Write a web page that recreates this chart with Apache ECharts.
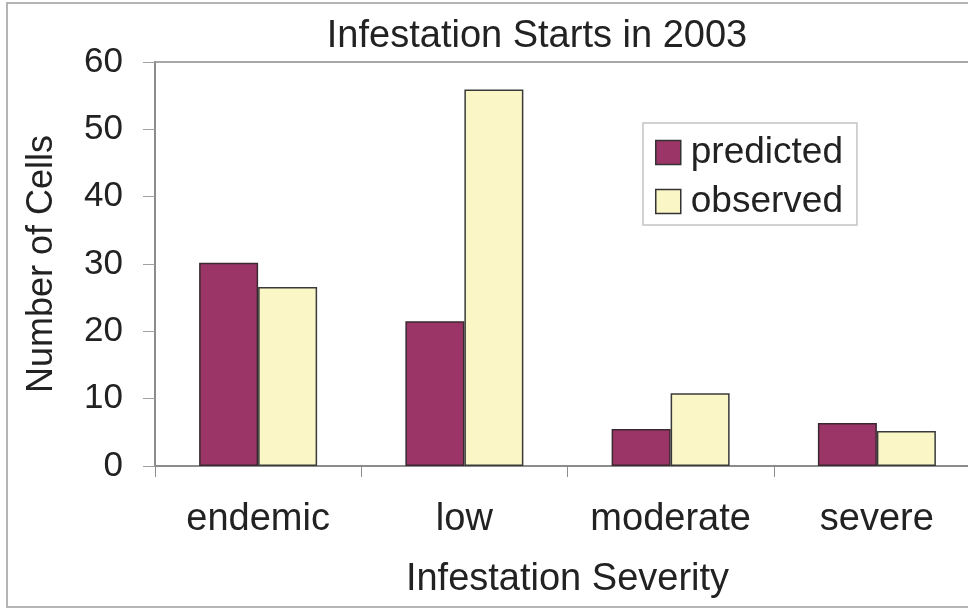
<!DOCTYPE html>
<html>
<head>
<meta charset="utf-8">
<script src="https://cdn.jsdelivr.net/npm/echarts@6/dist/echarts.min.js"></script>
<style>
  html, body { margin: 0; padding: 0; background: #ffffff; }
  #chart { width: 968px; height: 611px; }
</style>
</head>
<body>
<div id="chart"></div>
<script>
// Severity classes along the category axis
const categories = ['endemic', 'low', 'moderate', 'severe'];
// Number of cells per severity class
const predicted = [30.2, 21.5, 5.5, 6.4];
const observed = [26.6, 55.9, 10.8, 5.2];
// Value axis range and step
const yMin = 0;
const yMax = 60;
const yStep = 10;

const FONT = '"Liberation Sans", Arial, sans-serif';
const TEXT = '#222222';

const chart = echarts.init(document.getElementById('chart'), null, { renderer: 'canvas' });

chart.setOption({
  backgroundColor: '#ffffff',
  animation: false,
  textStyle: { fontFamily: FONT },
  title: {
    text: 'Infestation Starts in 2003',
    left: 532,
    top: 13,
    textAlign: 'center',
    textStyle: { fontFamily: FONT, fontSize: 38, fontWeight: 'normal', color: TEXT }
  },
  graphic: [{
    type: 'rect',
    shape: { x: 7, y: 3, width: 1000, height: 604 },
    style: { fill: 'none', stroke: '#b4b4b4', lineWidth: 2 },
    silent: true,
    z: -1
  }],
  legend: {
    orient: 'vertical',
    left: 643,
    top: 123,
    padding: [11, 14, 5, 12],
    itemGap: 12,
    itemWidth: 25,
    itemHeight: 24,
    itemStyle: { borderColor: '#333333', borderWidth: 1.5 },
    borderColor: '#c4c4c4',
    borderWidth: 1.5,
    icon: 'rect',
    textStyle: { fontFamily: FONT, fontSize: 37, color: TEXT, lineHeight: 36, padding: [0, 0, 0, 5] },
    data: ['predicted', 'observed']
  },
  grid: {
    left: 155,
    top: 62,
    right: -12,
    bottom: 145,
    outerBoundsMode: 'none',
    show: true,
    borderColor: '#a8a8a8',
    borderWidth: 2,
    containLabel: false
  },
  xAxis: {
    type: 'category',
    data: categories,
    name: 'Infestation Severity',
    nameLocation: 'middle',
    nameGap: 95,
    nameTextStyle: { fontFamily: FONT, fontSize: 38, color: TEXT },
    axisLine: { lineStyle: { color: '#8c8c8c', width: 2 } },
    axisTick: { show: true, interval: 0, alignWithLabel: false, length: 11, lineStyle: { color: '#8c8c8c', width: 1 } },
    axisLabel: { interval: 0, fontFamily: FONT, fontSize: 38, color: TEXT, margin: 35 },
    splitLine: { show: false }
  },
  yAxis: {
    type: 'value',
    min: yMin,
    max: yMax,
    interval: yStep,
    name: 'Number of Cells',
    nameLocation: 'middle',
    nameGap: 95,
    nameRotate: 90,
    nameTextStyle: { fontFamily: FONT, fontSize: 36, color: TEXT },
    axisLine: { show: true, lineStyle: { color: '#8c8c8c', width: 2 } },
    axisTick: { show: true, length: 12, lineStyle: { color: '#a0a0a0', width: 1 } },
    axisLabel: { fontFamily: FONT, fontSize: 35, color: TEXT, margin: 32 },
    splitLine: { show: false }
  },
  series: [
    {
      name: 'predicted',
      type: 'bar',
      data: predicted,
      barWidth: 59,
      barGap: '0%',
      itemStyle: { color: '#9c3567', borderColor: '#3a2a30', borderWidth: 1.5 }
    },
    {
      name: 'observed',
      type: 'bar',
      data: observed,
      barWidth: 59,
      barGap: '0%',
      itemStyle: { color: '#fbf6c6', borderColor: '#3a3a3a', borderWidth: 1.5 }
    }
  ]
});
</script>
</body>
</html>
